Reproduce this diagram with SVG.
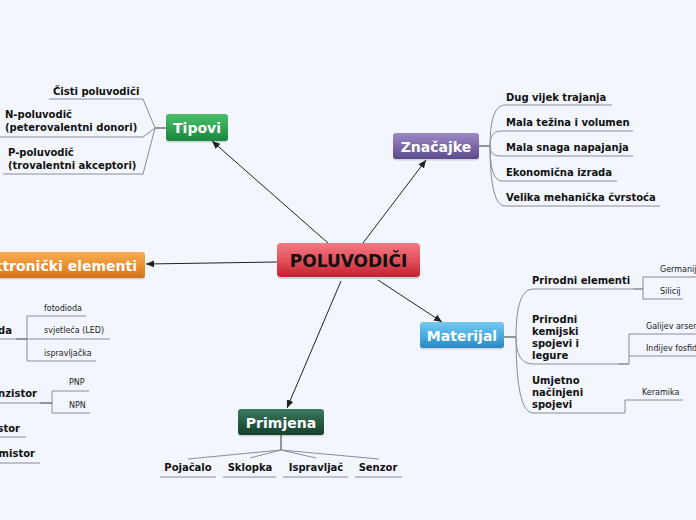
<svg xmlns="http://www.w3.org/2000/svg" width="696" height="520" viewBox="0 0 696 520">
<defs>
<linearGradient id="gRed" x1="0" y1="0" x2="0" y2="1"><stop offset="0" stop-color="#f27a83"/><stop offset="0.5" stop-color="#e4505b"/><stop offset="1" stop-color="#c1222e"/></linearGradient>
<linearGradient id="gGreen" x1="0" y1="0" x2="0" y2="1"><stop offset="0" stop-color="#4cbf6c"/><stop offset="0.5" stop-color="#2fa552"/><stop offset="1" stop-color="#1b863b"/></linearGradient>
<linearGradient id="gPurple" x1="0" y1="0" x2="0" y2="1"><stop offset="0" stop-color="#9a89c4"/><stop offset="0.5" stop-color="#7d6aaa"/><stop offset="1" stop-color="#5c4a8a"/></linearGradient>
<linearGradient id="gOrange" x1="0" y1="0" x2="0" y2="1"><stop offset="0" stop-color="#f7ad58"/><stop offset="0.5" stop-color="#ec912f"/><stop offset="1" stop-color="#d2721b"/></linearGradient>
<linearGradient id="gBlue" x1="0" y1="0" x2="0" y2="1"><stop offset="0" stop-color="#74c9f0"/><stop offset="0.5" stop-color="#4aaee2"/><stop offset="1" stop-color="#2a88c4"/></linearGradient>
<linearGradient id="gDark" x1="0" y1="0" x2="0" y2="1"><stop offset="0" stop-color="#3b7a5e"/><stop offset="0.5" stop-color="#265c44"/><stop offset="1" stop-color="#173f2d"/></linearGradient>
<marker id="arr" markerUnits="userSpaceOnUse" markerWidth="9" markerHeight="8" refX="8" refY="3.5" orient="auto"><path d="M0,0 L8,3.5 L0,7 z" fill="#222"/></marker>
<style>
.bg{fill:#f3f6fd}
.shadow{fill:#000;opacity:0.14}
.main{font-family:"DejaVu Sans","Liberation Sans",sans-serif;font-weight:bold;fill:#fff;text-anchor:middle}
.center{font-family:"DejaVu Sans","Liberation Sans",sans-serif;font-weight:bold;fill:#111;text-anchor:middle;font-size:17px}
.sub{font-family:"DejaVu Sans","Liberation Sans",sans-serif;font-weight:bold;fill:#111;font-size:10px}
.leaf{font-family:"DejaVu Sans","Liberation Sans",sans-serif;fill:#222;font-size:8px}
.arrow{stroke:#222;stroke-width:1;fill:none}
.stub{stroke:#555;stroke-width:1.2;fill:none}
.br{stroke:#8c8c98;stroke-width:1;fill:none}
</style>
</defs>
<rect class="bg" x="0" y="0" width="696" height="520"/>

<g id="connectors">
<line class="arrow" x1="328" y1="243" x2="212" y2="141" marker-end="url(#arr)"/>
<line class="arrow" x1="363" y1="243" x2="426" y2="160" marker-end="url(#arr)"/>
<line class="arrow" x1="277" y1="262" x2="146" y2="264" marker-end="url(#arr)"/>
<line class="arrow" x1="378" y1="280" x2="442" y2="322" marker-end="url(#arr)"/>
<line class="arrow" x1="341" y1="281" x2="287" y2="408" marker-end="url(#arr)"/>

<!-- Tipovi branches -->
<path class="stub" d="M166,128 H155"/>
<path class="br" d="M155,128 L143,99 H49 M155,128 L143,137 H0 M155,128 L143,174 H3"/>

<!-- Značajke branches -->
<path class="stub" d="M479,146 H490"/>
<path class="br" d="M490,146 Q490,105 505,105 H612 M490,146 Q490,131 500,131 H633 M490,146 Q490,156 500,156 H633 M490,146 Q490,181 502,181 H617 M490,146 Q490,206 505,206 H660"/>

<!-- Materijal branches -->
<path class="stub" d="M504,337 H516"/>
<path class="br" d="M516,337 Q516,289 533,289 H633 M516,337 Q516,364 533,364 H618 M516,337 Q516,413 533,413 H625"/>
<path class="stub" d="M633,289 H643 M618,364 H629"/>
<path class="br" d="M643,277 V299 M643,277 H696 M643,299 H683 M629,334 V364 M629,334 H696 M629,356 H696 M625,413 V400 H683"/>

<!-- Primjena branches -->
<path class="stub" d="M281,435 V450"/>
<path class="br" d="M281,450 L188,459 M281,450 L250,458 M281,450 L316,458 M281,450 L379,459"/>
<path class="br" d="M160,477 H216 M223,477 H276 M283,477 H348 M355,477 H402"/>

<!-- Elektronički elementi branches -->
<path class="br" d="M0,339 H16 M27,316 V361 M27,316 H86 M27,339 H110 M27,361 H96"/>
<path class="stub" d="M16,339 H27"/>
<path class="br" d="M0,403 H40 M52,391 V413 M52,391 H89 M52,413 H90 M0,437 H26 M0,463 H40"/>
<path class="stub" d="M40,403 H52"/>
</g>

<g id="node-center">
<rect class="shadow" x="277" y="245" width="143" height="34" rx="4"/>
<rect x="277" y="243" width="143" height="34" rx="4" fill="url(#gRed)"/>
<text class="center" x="348.5" y="266.5">POLUVODIČI</text>
</g>

<g id="node-tipovi">
<rect class="shadow" x="166" y="115.5" width="62" height="27" rx="3"/>
<rect x="166" y="114" width="62" height="27" rx="3" fill="url(#gGreen)"/>
<text class="main" x="197" y="133" font-size="14">Tipovi</text>
</g>
<g id="tipovi-items">
<text class="sub" x="53" y="95">Čisti poluvodiči</text>
<text class="sub" x="5" y="118">N-poluvodič</text>
<text class="sub" x="5" y="131">(peterovalentni donori)</text>
<text class="sub" x="8" y="156">P-poluvodič</text>
<text class="sub" x="8" y="169">(trovalentni akceptori)</text>
</g>

<g id="node-znacajke">
<rect class="shadow" x="393" y="134.5" width="86" height="26" rx="3"/>
<rect x="393" y="133" width="86" height="26" rx="3" fill="url(#gPurple)"/>
<text class="main" x="436" y="151.5" font-size="14">Značajke</text>
</g>
<g id="znacajke-items">
<text class="sub" x="506" y="101">Dug vijek trajanja</text>
<text class="sub" x="506" y="126">Mala težina i volumen</text>
<text class="sub" x="506" y="151">Mala snaga napajanja</text>
<text class="sub" x="506" y="176">Ekonomična izrada</text>
<text class="sub" x="506" y="201">Velika mehanička čvrstoća</text>
</g>

<g id="node-elektronicki">
<rect class="shadow" x="-40" y="253.5" width="185" height="26" rx="3"/>
<rect x="-40" y="252" width="185" height="26" rx="3" fill="url(#gOrange)"/>
<text class="main" x="137" y="270.5" font-size="14" style="text-anchor:end">Elektronički elementi</text>
</g>
<g id="elektronicki-items">
<text class="sub" x="12" y="334" style="text-anchor:end">Dioda</text>
<text class="leaf" x="44" y="311">fotodioda</text>
<text class="leaf" x="44" y="333">svjetleća (LED)</text>
<text class="leaf" x="44" y="356">ispravljačka</text>
<text class="sub" x="37" y="397" style="text-anchor:end">Tranzistor</text>
<text class="leaf" x="69" y="385">PNP</text>
<text class="leaf" x="69" y="408">NPN</text>
<text class="sub" x="20" y="432" style="text-anchor:end">Tiristor</text>
<text class="sub" x="35" y="457" style="text-anchor:end">Termistor</text>
</g>

<g id="node-materijal">
<rect class="shadow" x="420" y="323.5" width="84" height="26" rx="3"/>
<rect x="420" y="322" width="84" height="26" rx="3" fill="url(#gBlue)"/>
<text class="main" x="462" y="340.5" font-size="14">Materijal</text>
</g>
<g id="materijal-items">
<text class="sub" x="532" y="284">Prirodni elementi</text>
<text class="sub" x="532" y="323">Prirodni</text>
<text class="sub" x="532" y="335">kemijski</text>
<text class="sub" x="532" y="347">spojevi i</text>
<text class="sub" x="532" y="359">legure</text>
<text class="sub" x="532" y="384">Umjetno</text>
<text class="sub" x="532" y="396">načinjeni</text>
<text class="sub" x="532" y="408">spojevi</text>
<text class="leaf" x="660" y="272">Germanij</text>
<text class="leaf" x="660" y="294">Silicij</text>
<text class="leaf" x="646" y="329">Galijev arsenid</text>
<text class="leaf" x="646" y="351">Indijev fosfid</text>
<text class="leaf" x="642" y="395">Keramika</text>
</g>

<g id="node-primjena">
<rect class="shadow" x="238" y="410.5" width="86" height="26" rx="3"/>
<rect x="238" y="409" width="86" height="26" rx="3" fill="url(#gDark)"/>
<text class="main" x="281" y="427.5" font-size="14">Primjena</text>
</g>
<g id="primjena-items">
<text class="sub" x="188" y="471" style="text-anchor:middle">Pojačalo</text>
<text class="sub" x="250" y="471" style="text-anchor:middle">Sklopka</text>
<text class="sub" x="316" y="471" style="text-anchor:middle">Ispravljač</text>
<text class="sub" x="378" y="471" style="text-anchor:middle">Senzor</text>
</g>
</svg>
